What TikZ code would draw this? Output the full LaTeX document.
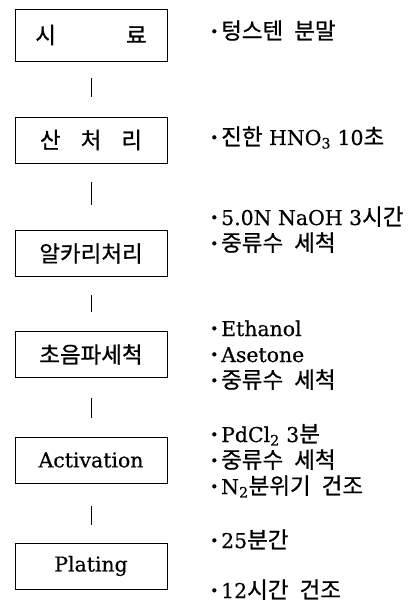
\documentclass[tikz,border=0pt]{standalone}
\usepackage{fontspec}
\setmainfont{DejaVu Serif}[FakeBold=0.4]
\newfontfamily\ko{Noto Sans CJK KR}[FakeBold=0.8, Scale=1.1, WordSpace=2.2]
\newcommand{\bul}{\makebox[11bp][l]{\raisebox{2.5bp}{\fontsize{14}{14}\selectfont\textbullet}}}
\begin{document}
\begin{tikzpicture}[x=1bp,y=-1bp,
  box/.style={draw, line width=0.9bp, minimum width=152bp, minimum height=46bp, inner sep=0pt},
  link/.style={line width=0.8bp},
  item/.style={anchor=base west, inner sep=0pt},
  font=\fontsize{20.5}{26}\selectfont]
\useasboundingbox (0,0) rectangle (416,602);
% process boxes
\node[box, minimum height=52bp] (b1) at (91,35) {{\ko 시}\hspace{70bp}{\ko 료}};
\node[box] (b2) at (91,140) {{\ko 산}\hspace{20bp}{\ko 처}\hspace{20bp}{\ko 리}};
\node[box] (b3) at (91,253.5) {\ko 알카리처리};
\node[box] (b4) at (91,354.5) {\ko 초음파세척};
\node[box] (b5) at (91,460) {Activation};
\node[box] (b6) at (91,566) {Plating};
% connectors
\draw[link, shorten <=17bp, shorten >=20bp] (b1.south) -- (b2.north);
\draw[link, shorten <=19bp, shorten >=25bp] (b2.south) -- (b3.north);
\draw[link, shorten <=18bp, shorten >=19bp] (b3.south) -- (b4.north);
\draw[link, shorten <=20bp, shorten >=19bp] (b4.south) -- (b5.north);
\draw[link, shorten <=23bp, shorten >=18bp] (b5.south) -- (b6.north);
% conditions
\node[item] (t1) at (210,39) {\bul{\ko 텅스텐 분말}};
\node[item] (t2) at (210,145) {\bul{\ko 진한} HNO\textsubscript{3} 10{\ko 초}};
\node[item] (t3a) at (210,225) {\bul 5.0N NaOH 3{\ko 시간}};
\node[item] (t3b) at (210,251) {\bul{\ko 중류수 세척}};
\node[item] (t4a) at (210,336) {\bul Ethanol};
\node[item] (t4b) at (210,362) {\bul Asetone};
\node[item] (t4c) at (210,388) {\bul{\ko 중류수 세척}};
\node[item] (t5a) at (210,442) {\bul PdCl\textsubscript{2} 3{\ko 분}};
\node[item] (t5b) at (210,468) {\bul{\ko 중류수 세척}};
\node[item] (t5c) at (210,494) {\bul N\textsubscript{2}{\ko 분위기 건조}};
\node[item] (t6a) at (210,548) {\bul 25{\ko 분간}};
\node[item] (t6b) at (210,598) {\bul 12{\ko 시간 건조}};
\end{tikzpicture}
\end{document}
